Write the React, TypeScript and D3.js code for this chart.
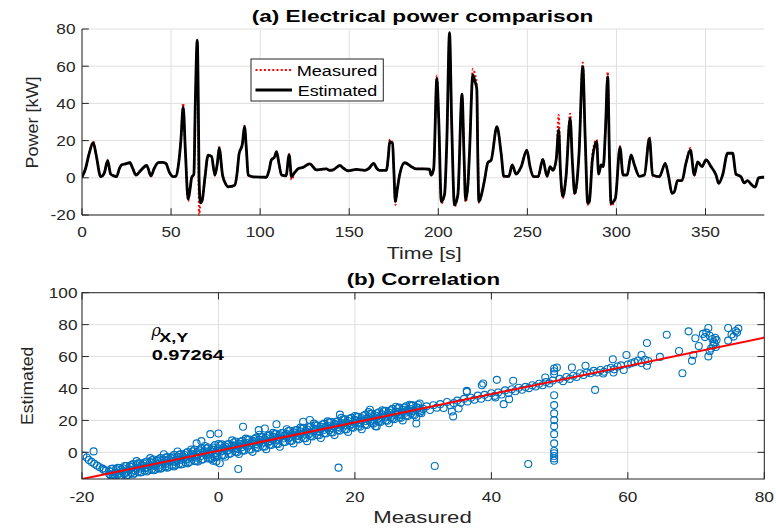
import React from "react";
import * as d3 from "d3";

// ---------- (a) time series: time [s], estimated / measured power [kW] ----------
const TIME_S = [
  0, 2, 4, 6.3, 8, 10.5, 12.5, 14.4, 16.1, 18,
  19.4, 21, 22.2, 24.5, 26.9, 28.5, 30.3, 33, 36.3, 38.7,
  40.5, 42.8, 45, 47.1, 49, 51.2, 52.8, 54, 55.5, 56.8,
  58, 59.6, 60.8, 61.5, 62.8, 63.6, 64.7, 65.3, 65.7, 66.5,
  67.5, 69, 70.8, 72.7, 74.6, 76, 77, 78.9, 80.5, 82,
  85.8, 87, 88.2, 90, 91.2, 92.3, 93.3, 96, 103.5, 105,
  106.3, 108, 109.2, 110.5, 112, 114.5, 116.3, 117.6, 119.5, 121.5,
  124.1, 127.8, 131.6, 134, 137.2, 139, 141, 144.7, 147, 149.3,
  154, 158.7, 161, 163.7, 165.5, 167, 170.8, 172, 172.7, 174.3,
  175.1, 175.9, 177, 178.4, 181.1, 184.9, 187.7, 192.3, 195, 196,
  197.4, 199.2, 200.3, 201.7, 203.5, 204.8, 206.3, 207.5, 209.1, 211,
  213.3, 214.5, 215.3, 216.6, 217.5, 219.4, 220.5, 221.6, 222.2, 222.8,
  224.5, 226, 227.8, 229.7, 232.9, 235.3, 236.8, 239.6, 241.5, 243.7,
  246.5, 249.7, 251.5, 253.4, 256, 258.7, 261, 262.8, 264.4, 266.2,
  267.6, 268.5, 269.9, 271.7, 274, 275.3, 276.6, 279, 281.1, 282.5,
  283.9, 284.8, 286.5, 288.9, 290, 291.4, 292.6, 293.8, 295.1, 296.1,
  297, 299.4, 302, 303.7, 306, 308.2, 310.1, 312.9, 315.7, 318.5,
  320.3, 324.1, 327.4, 329.3, 331.2, 332.5, 334.3, 336.8, 339, 341.5,
  343.7, 345.6, 348, 350.3, 353.1, 355.9, 357.4, 359.6, 362.4, 365.2,
  367.1, 369.9, 371.7, 373.6, 375.5, 377.9, 379.8, 382, 383,
];
const ESTIMATED_KW = [
  0.3, 5, 13, 18.9, 12, 0.6, 2.5, 9.2, 2, 1,
  0.6, 5, 6.9, 7.5, 8.1, 5, 1.5, 4, 6.6, 1,
  5, 8.1, 8.3, 7.7, 3, 0.6, 1, 6, 20, 38,
  15, -11.5, -5, 0, 2, 40, 74, 40, 0, -13.5,
  -12, 0, 12.2, 11.5, 1.5, 8, 16, 1.5, -3, -4.8,
  -4, 2, 13, 18, 27.5, 15, 1.5, 0.5, 0.3, 4,
  9.6, 11, 14, 8, 1.5, 1, 12.3, 0.6, 3, 5,
  5.6, 7.5, 4.3, 4.5, 4.8, 4, 4.3, 6.6, 5, 3.8,
  4.5, 4, 5, 7.7, 5, 4, 4, 12, 19.4, 18.5,
  3, -12.8, -6, 2, 8.1, 6, 4.8, 4.8, 4.6, 1.5,
  4.8, 53.5, 30, -12.8, -9, 20, 78, 30, -14.6, -9,
  45, 10, -12, -4, 13, 55.3, 52, 48, 10, -12.8,
  -8, -1, 8.1, 9.6, 27.5, 13, 0.8, 0.8, 6.9, 2,
  5.9, 14.9, 6, 0.6, 0.6, 9.9, 0.8, 6, 4, 9.9,
  25.7, 5, -10.1, 0.6, 32, 8, -8.4, 13, 59.7, 20,
  -13.7, -12.8, 9.6, 19.4, 2, 6.9, 6, 25, 54.4, 10,
  -13.7, -11, 16.4, 1.5, 1.5, 12.3, 6.9, 0.8, 1.5, 21.2,
  1.5, 0.6, 7.7, 0.6, -8.4, -7.5, -1.5, -1.5, 7.7, 15,
  1.5, 8.6, 6, 9.6, 6, 1.5, -3, 1.5, 13.2, 13.2,
  2, 0.6, -2.7, -1.5, -3.4, -5, 0, 0.3, 0.3,
];
const MEASURED_KW = [
  0.3, 5, 13, 19.5, 12, 0.5, 2.5, 9.5, 2, 1,
  0.6, 5, 7, 7.5, 8.3, 5, 1.3, 4, 6.8, 0.8,
  5, 8.2, 8.3, 7.8, 3, 0.5, 1, 6, 20, 40,
  15, -12.5, -5, 0, 2, 38, 72, 20, -20, -14,
  -12, 0, 12, 11.8, 1.3, 8, 16.5, 1, -3, -5,
  -4, 2, 13, 18, 28, 15, 1.2, 0.5, 0.3, 4,
  9.6, 11, 14, 8, 1.5, 1, 12.8, -1, 3, 5,
  5.6, 7.8, 4.3, 4.5, 4.8, 4, 4.3, 6.6, 5, 3.8,
  4.5, 4, 5, 7.8, 5, 4, 4, 12, 20.5, 19,
  3, -14.5, -6, 2, 8.1, 6, 4.8, 4.8, 4.6, 1.2,
  4.8, 55, 30, -13.8, -9, 20, 77.5, 30, -15.5, -9,
  44, 10, -13, -5, 13, 58.5, 56, 50, 20, -13.5,
  -8, -1, 8.1, 9.8, 27.5, 13, 0.5, 0.8, 6.9, 2,
  5.9, 15, 6, 0.5, 0.6, 10.2, 0.5, 6, 4, 10,
  33.8, 5, -11, 0.6, 34.5, 8, -9, 13, 62, 20,
  -14.5, -13, 13, 20.5, 2, 6.9, 6, 25, 57, 12,
  -15, -11, 17, 1.5, 1.5, 12.3, 6.9, 0.8, 1.5, 22,
  1.2, 0.6, 7.7, 0.6, -8.5, -7.5, -1.5, -1.5, 7.7, 16,
  1.2, 8.6, 6, 9.6, 6, 1.5, -3, 1.5, 13.2, 13.2,
  1.5, 0.6, -2.7, -1.5, -3.4, -5, 0, 0.3, 0.3,
];

// ---------- (b) correlation: [measured, estimated] ----------
const CORR_POINTS: [number, number][] = [
  // left tail
  [-19.8, -2.0], [-19.3, -3.2], [-19.0, -4.8], [-18.6, -6.0], [-18.2, -7.2], [-17.8, -8.3],
  [-17.4, -9.3], [-17.0, -10.2], [-16.8, -11.0], [-18.3, 0.6],
  // upper band
  [-16.5, -11.5], [-15.5, -10.2], [-14.5, -9.8], [-13.5, -8.6], [-12.5, -7.4], [-11.5, -6.9],
  [-10.5, -5.8], [-9.5, -4.5], [-8.5, -3.6], [-7.5, -3.0], [-6.5, -1.5], [-5.5, -1.0],
  [-4.5, 0.2], [-3.5, 1.8], [-2.5, 2.5], [-1.5, 3.0], [-0.5, 4.5], [0.5, 5.0], [1.5, 5.2],
  [2.5, 6.8], [3.5, 7.3], [4.5, 8.0], [5.5, 9.1], [6.5, 9.5], [7.5, 10.8], [8.5, 11.6],
  [9.5, 12.1], [10.5, 13.5], [11.5, 14.0], [12.5, 15.3], [13.5, 16.2], [14.5, 16.8],
  [15.5, 18.0], [16.5, 19.2], [17.5, 19.5], [18.5, 20.8], [19.5, 21.6], [20.5, 22.3],
  [21.5, 23.5], [22.5, 24.2], [23.5, 25.1], [24.5, 26.0], [25.5, 27.2], [26.5, 28.0],
  [27.5, 28.9], [28.5, 29.5], [29.5, 30.6],
  // middle band
  [-16, -13.5], [-15, -12.8], [-14, -11.9], [-13, -10.8], [-12, -9.9], [-11, -8.5], [-10, -8.2],
  [-9, -7.1], [-8, -6.4], [-7, -5.0], [-6, -4.6], [-5, -3.2], [-4, -2.8], [-3, -1.4], [-2, -1.0],
  [-1, 0.5], [0, 0.8], [1, 2.2], [2, 2.5], [3, 4.0], [4, 4.2], [5, 5.8], [6, 6.0], [7, 7.5],
  [8, 7.8], [9, 9.3], [10, 9.6], [11, 11.0], [12, 11.3], [13, 12.8], [14, 13.1], [15, 14.6],
  [16, 14.9], [17, 16.4], [18, 16.7], [19, 18.1], [20, 18.4], [21, 19.9], [22, 20.2], [23, 21.7],
  [24, 22.0], [25, 23.4], [26, 23.8], [27, 25.2], [28, 25.5], [29, 26.9], [30, 27.3],
  // lower band
  [-15.5, -15.2], [-14.5, -14.8], [-13.5, -14.5], [-12.5, -13.9], [-11.5, -12.6], [-10.5, -12.0],
  [-9.5, -11.2], [-8.5, -10.3], [-7.5, -9.6], [-6.5, -8.8], [-5.5, -7.6], [-4.5, -6.9],
  [-3.5, -5.5], [-2.5, -4.6], [-1.5, -3.9], [-0.5, -3.0], [0.5, -1.6], [1.5, -1.0], [2.5, 0.3],
  [3.5, 1.2], [4.5, 1.8], [5.5, 3.0], [6.5, 3.6], [7.5, 4.8], [8.5, 5.3], [9.5, 6.5],
  [10.5, 7.1], [11.5, 8.4], [12.5, 8.9], [13.5, 10.2], [14.5, 10.8], [15.5, 12.0], [16.5, 12.6],
  [17.5, 13.9], [18.5, 14.4], [19.5, 15.7], [20.5, 16.3], [21.5, 17.5], [22.5, 18.2],
  [23.5, 19.2], [24.5, 20.0], [25.5, 21.2], [26.5, 21.8], [27.5, 23.0], [28.5, 23.6], [29.5, 24.8],
  // lowest band (left)
  [-15.8, -14.5], [-14.8, -14.0], [-13.8, -13.5], [-12.8, -13.0], [-11.8, -12.3], [-10.8, -11.6],
  [-9.8, -10.8], [-8.8, -10.0], [-7.8, -9.2], [-6.8, -8.2], [-5.8, -7.4], [-4.8, -6.4],
  // in-between rows
  [-15.75, -12.0], [-14.25, -10.6], [-12.75, -9.2], [-11.25, -7.9], [-9.75, -6.4], [-8.25, -5.2],
  [-6.75, -3.8], [-5.25, -2.5], [-3.75, -1.1], [-2.25, 0.2], [-0.75, 1.5], [0.75, 2.9],
  [2.25, 4.2], [3.75, 5.6], [5.25, 6.8], [6.75, 8.2], [8.25, 9.4], [9.75, 10.8], [11.25, 12.0],
  [12.75, 13.4], [14.25, 14.6], [15.75, 16.0], [17.25, 17.3], [18.75, 18.6], [20.25, 19.9],
  [21.75, 21.3], [23.25, 22.6], [24.75, 23.9], [26.25, 25.3], [27.75, 26.6], [29.25, 27.9],
  [-15.25, -14.0], [-13.75, -13.0], [-12.25, -11.4], [-10.75, -10.0], [-9.25, -8.6], [-7.75, -7.3],
  [-6.25, -6.0], [-4.75, -4.6], [-3.25, -3.3], [-1.75, -1.8], [-0.25, -0.5], [1.25, 0.9],
  [2.75, 2.2], [4.25, 3.6], [5.75, 4.8], [7.25, 6.2], [8.75, 7.5], [10.25, 8.8], [11.75, 10.2],
  [13.25, 11.4], [14.75, 12.8], [16.25, 14.0], [17.75, 15.4], [19.25, 16.7], [20.75, 18.0],
  [22.25, 19.3], [23.75, 20.6], [25.25, 21.9], [26.75, 23.2], [28.25, 24.5], [29.75, 25.9],
  // extra dense rows
  [-15.75, -10.4], [-14.75, -9.7], [-13.75, -8.6], [-12.75, -8.0], [-11.75, -6.9], [-10.75, -6.2],
  [-9.75, -5.0], [-8.75, -4.4], [-7.75, -3.2], [-6.75, -2.6], [-5.75, -1.5], [-4.75, -0.4],
  [-3.75, 0.6], [-2.75, 1.2], [-1.75, 2.5], [-0.75, 3.0], [0.25, 4.4], [1.25, 4.9], [2.25, 6.2],
  [3.25, 6.6], [4.25, 8.0], [5.25, 8.4], [6.25, 9.8], [7.25, 10.3], [8.25, 11.5], [9.25, 12.1],
  [10.25, 13.4], [11.25, 13.8], [12.25, 15.2], [13.25, 15.7], [14.25, 17.0], [15.25, 17.4],
  [16.25, 18.8], [17.25, 19.2], [18.25, 20.6], [19.25, 21.0], [20.25, 22.3], [21.25, 22.8],
  [22.25, 24.1], [23.25, 24.5], [24.25, 25.9], [25.25, 26.3], [26.25, 27.6], [27.25, 28.0],
  [28.25, 29.4], [29.25, 29.8],
  [-15.25, -15.8], [-14.25, -14.9], [-13.25, -14.2], [-12.25, -13.1], [-11.25, -12.4],
  [-10.25, -11.4], [-9.25, -10.8], [-8.25, -9.7], [-7.25, -9.0], [-6.25, -7.9], [-5.25, -7.3],
  [-4.25, -6.1], [-3.25, -5.5], [-2.25, -4.4], [-1.25, -3.7], [-0.25, -2.6], [0.75, -1.8],
  [1.75, -0.8], [2.75, 0.0], [3.75, 1.0], [4.75, 1.8], [5.75, 2.8], [6.75, 3.5], [7.75, 4.6],
  [8.75, 5.3], [9.75, 6.4], [10.75, 7.2], [11.75, 8.1], [12.75, 8.9], [13.75, 10.0], [14.75, 10.7],
  [15.75, 11.8], [16.75, 12.5], [17.75, 13.6], [18.75, 14.3], [19.75, 15.4], [20.75, 16.1],
  [21.75, 17.2], [22.75, 18.0], [23.75, 19.0], [24.75, 19.8], [25.75, 20.8], [26.75, 21.6],
  [27.75, 22.7], [28.75, 23.4], [29.75, 24.5],
  [-16, -11.8], [-15, -10.6], [-14, -10.0], [-13, -8.8], [-12, -8.1], [-11, -7.0], [-10, -6.3],
  [-9, -5.2], [-8, -4.6], [-7, -3.4], [-6, -2.8], [-5, -1.7], [-4, -1.0], [-3, 0.1], [-2, 0.7],
  [-1, 1.9], [0, 2.5], [1, 3.6], [2, 4.3], [3, 5.4], [4, 6.0], [5, 7.2], [6, 7.8], [7, 9.0],
  [8, 9.6], [9, 10.7], [10, 11.4], [11, 12.5], [12, 13.1], [13, 14.3], [14, 14.9], [15, 16.0],
  [16, 16.7], [17, 17.8], [18, 18.4], [19, 19.6], [20, 20.2], [21, 21.4], [22, 22.0], [23, 23.1],
  [24, 23.8], [25, 24.9], [26, 25.5], [27, 26.7], [28, 27.3], [29, 28.4],
  [-15.5, -13.9], [-14.5, -13.2], [-13.5, -12.0], [-12.5, -11.4], [-11.5, -10.2], [-10.5, -9.5],
  [-9.5, -8.3], [-8.5, -7.7], [-7.5, -6.5], [-6.5, -5.8], [-5.5, -4.7], [-4.5, -4.0], [-3.5, -2.8],
  [-2.5, -2.2], [-1.5, -1.0], [-0.5, -0.3], [0.5, 0.9], [1.5, 1.5], [2.5, 2.7], [3.5, 3.3],
  [4.5, 4.4], [5.5, 5.2], [6.5, 6.2], [7.5, 7.0], [8.5, 8.0], [9.5, 8.7], [10.5, 9.8], [11.5, 10.5],
  [12.5, 11.6], [13.5, 12.3], [14.5, 13.4], [15.5, 14.1], [16.5, 15.2], [17.5, 15.9], [18.5, 17.0],
  [19.5, 17.7], [20.5, 18.8], [21.5, 19.5], [22.5, 20.6], [23.5, 21.3], [24.5, 22.4], [25.5, 23.1],
  [26.5, 24.2], [27.5, 24.9], [28.5, 26.0], [29.5, 26.7],
  // outer edges of the band
  [-12, -5.5], [-10, -3.6], [-8, -1.2], [-6, 0.5], [-4, 1.8], [-2, 4.0], [0, 5.2], [2, 7.5],
  [4, 8.6], [6, 11.0], [8, 12.2], [10, 14.5], [12, 15.6], [14, 18.0], [16, 19.4], [18, 21.6],
  [20, 22.8], [22, 25.2], [24, 26.4], [26, 28.6], [28, 29.8],
  [-3, -5.8], [-1, -4.2], [1, -2.8], [3, -1.0], [5, 0.3], [7, 2.0], [9, 3.5], [11, 5.6], [13, 7.0],
  [15, 9.0], [17, 10.8], [19, 12.8], [21, 14.5], [23, 16.4], [25, 18.2], [27, 20.0], [29, 22.0],
  // scattered points around the band
  [-3.2, 5.6], [-2.5, 7.0], [-1.2, 11.4], [0, 11.8], [3.6, 16.0], [6.8, 14.9], [5.9, 13.9],
  [8.5, 17.6], [12.4, 19.2], [13.4, 20.3], [17.8, 23.6], [22.2, 26.7], [23.2, 16.2],
  [2.9, -10.4], [17.6, -9.6], [-0.8, -5.2], [0.2, -6.8], [-0.3, -5.8], [29, 18.1], [31.7, -8.6],
  // sparse upper band
  [30.5, 28.8], [31, 26.5], [31.5, 29.5], [32, 28], [32.5, 30.2], [33, 27.8], [33.5, 31.5],
  [34, 29.5], [34.5, 30.8], [35, 32.4], [35.5, 31], [36, 33.5], [36.5, 31.8], [37, 34.2],
  [37.5, 33], [38, 35.5], [38.5, 33.6], [39, 36], [39.5, 34.5], [40, 37], [40.5, 35.4],
  [41, 37.5], [41.5, 36.2], [42, 38.8], [42.5, 37.1], [43, 39.5], [43.5, 38.3], [44, 40.5],
  [44.5, 39.2], [45, 41], [45.5, 40.2], [46, 42], [46.5, 41.2], [47, 43], [47.5, 42], [48, 44],
  [48.5, 43.2], [49, 45], [50, 46], [50.5, 44.6], [51, 47.2], [51.5, 46], [52, 48], [52.5, 47.2],
  [53, 49.5], [53.5, 48.4], [54, 50], [54.5, 49.5], [55, 51], [55.5, 50], [56, 51.6], [56.5, 50.5],
  [57, 52.2], [57.5, 53], [58, 52], [58.5, 53.8], [59, 54.5], [60, 55], [60.5, 55.8], [61, 56.5],
  [61.5, 57.5], [62, 56], [62.5, 58], [63, 57.2],
  // outliers upper range
  [34.4, 22.5], [34.2, 25.6], [35.2, 27.5], [36.4, 38.5], [38.8, 43.1], [40.8, 45.4], [43.2, 44.8],
  [41.8, 30.2], [42.6, 33.3], [40.6, 34.4], [38.6, 42], [36.4, 37.9], [45.4, -7.3], [47.9, 46.9],
  [49.6, 53.1], [51.8, 53.1], [53.8, 54.2], [55.2, 39.1], [56.4, 49.4], [57.8, 58.3], [57.9, 50],
  [59.4, 51.6], [59.8, 61], [62, 61], [62.8, 54.2], [64.7, 59.8], [62.8, 68.5], [65.7, 73.7],
  [68, 49.5], [67.5, 63.5], [69.4, 57.3], [69.6, 61], [70.4, 66.6], [69.9, 71.5], [68.9, 75.8],
  [71.8, 77.9], [74.7, 77.9], [76.2, 77.5], [76, 75], [75.5, 72.5], [74.7, 70], [75.2, 73.8],
  [75.8, 76], [71.5, 75], [72, 73], [72.4, 71], [72.6, 69], [72.5, 67], [72.2, 65], [72, 63.3],
  [71.8, 60.1], [71, 74.2], [71.3, 72.2], [72.8, 71.8], [73, 70.3], [72.7, 68.2], [72.9, 66],
  // vertical streak at measured ~49
  [49.2, 52.5], [49.2, 50.8], [49.2, 49], [49.2, 35.8], [49.2, 29.6], [49.2, 24.4], [49.2, 20.2],
  [49.2, 16.4], [49.2, 11.4], [49.2, 5.6], [49.2, 0.8], [49.2, -0.6], [49.2, -2.3], [49.2, -3.8],
  [49.2, -5.3],
];
const FIT_SLOPE = 0.886;
const FIT_INTERCEPT = 1.0;
const RHO_VALUE = "0.97264";

const TOP_X_TICKS = [0, 50, 100, 150, 200, 250, 300, 350];
const TOP_Y_TICKS = [-20, 0, 20, 40, 60, 80];
const BOT_X_TICKS = [-20, 0, 20, 40, 60, 80];
const BOT_Y_TICKS = [0, 20, 40, 60, 80, 100];

const AX = "#262626";
const GRID = "#dfdfdf";
const FONT = "'Liberation Sans', Arial, Helvetica, sans-serif";
const TICK = 6.8;

function TickText({ x, y, anchor, children }: any) {
  return (
    <text
      transform={`translate(${x},${y}) scale(1.15,1)`}
      textAnchor={anchor}
      fontSize={15}
      fill={AX}
      fontFamily={FONT}
    >
      {children}
    </text>
  );
}

export default function App() {
  const L = 82;
  const R = 764.3;
  const xT = d3.scaleLinear().domain([0, 383]).range([L, R]);
  const yT = d3.scaleLinear().domain([-20, 80]).range([215, 29]);
  const xB = d3.scaleLinear().domain([-20, 80]).range([L, R]);
  const yB = d3.scaleLinear().domain([-16.7, 100]).range([479, 292.7]);

  const n = Math.min(TIME_S.length, ESTIMATED_KW.length, MEASURED_KW.length);
  const idx = d3.range(n);
  const mkLine = (vals: number[]) =>
    d3
      .line<number>()
      .x((i) => xT(TIME_S[i]))
      .y((i) => yT(vals[i]))
      .curve(d3.curveMonotoneX)(idx) || "";

  const [tY0, tY1] = yT.range();
  const [bY0, bY1] = yB.range();
  const fx = xB.domain();

  return (
    <svg
      width={776}
      height={529}
      style={{ position: "absolute", left: 0, top: 0, background: "#fff" }}
      fontFamily={FONT}
    >
      <defs>
        <clipPath id="clipTop">
          <rect x={L} y={tY1 - 2} width={R - L} height={tY0 - tY1 + 4} />
        </clipPath>
        <clipPath id="clipBot">
          <rect x={L} y={bY1} width={R - L} height={bY0 - bY1} />
        </clipPath>
      </defs>
      <rect x={0} y={0} width={776} height={529} fill="#fff" />

      {/* ===== (a) top plot ===== */}
      {TOP_X_TICKS.map((t) => (
        <line key={"gxt" + t} x1={xT(t)} x2={xT(t)} y1={tY0} y2={tY1} stroke={GRID} strokeWidth={1} />
      ))}
      {TOP_Y_TICKS.map((t) => (
        <line key={"gyt" + t} x1={L} x2={R} y1={yT(t)} y2={yT(t)} stroke={GRID} strokeWidth={1} />
      ))}
      <g clipPath="url(#clipTop)">
        <path d={mkLine(MEASURED_KW)} fill="none" stroke="#ff0000" strokeWidth={2} strokeDasharray="2 2.2" />
        <path d={mkLine(ESTIMATED_KW)} fill="none" stroke="#000" strokeWidth={2.8} strokeLinejoin="round" />
      </g>
      <line x1={L} x2={L} y1={tY0} y2={tY1} stroke={AX} strokeWidth={1} />
      <line x1={L} x2={R} y1={tY0} y2={tY0} stroke={AX} strokeWidth={1} />
      {TOP_X_TICKS.map((t) => (
        <g key={"xt" + t}>
          <line x1={xT(t)} x2={xT(t)} y1={tY0} y2={tY0 - TICK} stroke={AX} />
          <TickText x={xT(t)} y={237.3} anchor="middle">{t}</TickText>
        </g>
      ))}
      {TOP_Y_TICKS.map((t) => (
        <g key={"yt" + t}>
          <line x1={L} x2={L + TICK} y1={yT(t)} y2={yT(t)} stroke={AX} />
          <TickText x={75.5} y={yT(t) + 5.3} anchor="end">{t}</TickText>
        </g>
      ))}
      <text x={251.7} y={21.7} fontSize={16} fontWeight="bold" fill="#000" textLength={341.6} lengthAdjust="spacingAndGlyphs">
        (a) Electrical power comparison
      </text>
      <text x={386.7} y={259} fontSize={16} fill={AX} textLength={75} lengthAdjust="spacingAndGlyphs">
        Time [s]
      </text>
      <text transform="translate(38.3,122.5) rotate(-90)" textAnchor="middle" fontSize={16} fill={AX} textLength={92} lengthAdjust="spacingAndGlyphs">
        Power [kW]
      </text>

      {/* legend */}
      <rect x={251} y={59} width={132.3} height={42} fill="#fff" stroke={AX} strokeWidth={1} />
      <line x1={255.5} x2={292} y1={70} y2={70} stroke="#ff0000" strokeWidth={2} strokeDasharray="2 2.2" />
      <line x1={255.5} x2={292} y1={90} y2={90} stroke="#000" strokeWidth={2.8} />
      <text x={296.7} y={76} fontSize={15.5} fill="#000" textLength={80.6} lengthAdjust="spacingAndGlyphs">Measured</text>
      <text x={297.7} y={95.5} fontSize={15.5} fill="#000" textLength={79.6} lengthAdjust="spacingAndGlyphs">Estimated</text>

      {/* ===== (b) bottom plot ===== */}
      {BOT_X_TICKS.map((t) => (
        <line key={"gxb" + t} x1={xB(t)} x2={xB(t)} y1={bY0} y2={bY1} stroke={GRID} strokeWidth={1} />
      ))}
      {BOT_Y_TICKS.map((t) => (
        <line key={"gyb" + t} x1={L} x2={R} y1={yB(t)} y2={yB(t)} stroke={GRID} strokeWidth={1} />
      ))}
      <g clipPath="url(#clipBot)">
        {CORR_POINTS.map(([m, e], i) => (
          <circle key={"p" + i} cx={xB(m)} cy={yB(e)} r={3.5} fill="none" stroke="#0072BD" strokeWidth={1.1} />
        ))}
        <line
          x1={xB(fx[0])}
          x2={xB(fx[1])}
          y1={yB(FIT_SLOPE * fx[0] + FIT_INTERCEPT)}
          y2={yB(FIT_SLOPE * fx[1] + FIT_INTERCEPT)}
          stroke="#ff0000"
          strokeWidth={2}
        />
      </g>
      <rect x={L} y={bY1} width={R - L} height={bY0 - bY1} fill="none" stroke={AX} strokeWidth={1} />
      {BOT_X_TICKS.map((t) => (
        <g key={"xb" + t}>
          <line x1={xB(t)} x2={xB(t)} y1={bY0} y2={bY0 - TICK} stroke={AX} />
          <line x1={xB(t)} x2={xB(t)} y1={bY1} y2={bY1 + TICK} stroke={AX} />
          <TickText x={xB(t)} y={501.7} anchor="middle">{t}</TickText>
        </g>
      ))}
      {BOT_Y_TICKS.map((t) => (
        <g key={"yb" + t}>
          <line x1={L} x2={L + TICK} y1={yB(t)} y2={yB(t)} stroke={AX} />
          <line x1={R} x2={R - TICK} y1={yB(t)} y2={yB(t)} stroke={AX} />
          <TickText x={77.5} y={yB(t) + 5.3} anchor="end">{t}</TickText>
        </g>
      ))}
      <text x={346.7} y={285} fontSize={16} fontWeight="bold" fill="#000" textLength={153.3} lengthAdjust="spacingAndGlyphs">
        (b) Correlation
      </text>
      <text x={373.3} y={523} fontSize={16} fill={AX} textLength={98.4} lengthAdjust="spacingAndGlyphs">
        Measured
      </text>
      <text transform="translate(33.3,385.8) rotate(-90)" textAnchor="middle" fontSize={16} fill={AX} textLength={78.3} lengthAdjust="spacingAndGlyphs">
        Estimated
      </text>
      <text x={151.5} y={335.5} fontSize={16} fontStyle="italic" fill="#000" fontFamily="'DejaVu Serif', serif">ρ</text>
      <text x={159.3} y={341.7} fontSize={12} fontWeight="bold" fill="#000" textLength={29} lengthAdjust="spacingAndGlyphs">X,Y</text>
      <text x={151.7} y={360} fontSize={15} fontWeight="bold" fill="#000" textLength={72.3} lengthAdjust="spacingAndGlyphs">
        {RHO_VALUE}
      </text>
    </svg>
  );
}
